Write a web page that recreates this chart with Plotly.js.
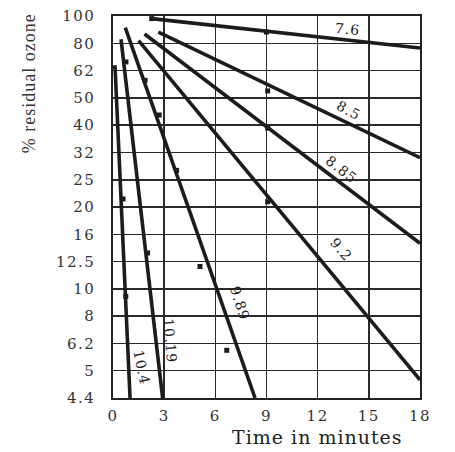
<!DOCTYPE html>
<html>
<head>
<meta charset="utf-8">
<script src="https://cdn.plot.ly/plotly-3.0.1.min.js"></script>
<style>
html,body{margin:0;padding:0;background:#fff;}
#chart{width:455px;height:452px;}
.xtick text,.ytick text{letter-spacing:1.5px;}
.annotation-text{letter-spacing:1px;}
</style>
</head>
<body>
<div id="chart"></div>
<script>
// pH value of each line
const phLabels = ["7.6", "8.5", "8.85", "9.2", "9.89", "10.19", "10.4"];

// line end points (time in minutes, % residual ozone)
const lineTimes = [
  [2.27, 18],
  [2.66, 18],
  [1.85, 18],
  [1.5, 18],
  [0.72, 8.33],
  [0.47, 2.91],
  [0.0, 0.12, 1.0]
];
const lineValues = [
  [97.9, 77.0],
  [87.7, 31.4],
  [86.3, 15.6],
  [81.7, 5.1],
  [91.0, 4.4],
  [82.7, 4.4],
  [65.9, 65.9, 4.4]
];

// measured points
const dotTimes = [
  [2.27, 9.0],
  [9.07],
  [9.07],
  [9.07],
  [1.88, 2.71, 3.73, 5.1, 6.67],
  [0.76, 2.03],
  [0.59, 0.75]
];
const dotValues = [
  [97.9, 87.7],
  [54.2],
  [40.0],
  [21.9],
  [59.1, 44.5, 28.3, 12.9, 6.5],
  [68.7, 14.4],
  [22.4, 10.1]
];

// y axis grid (equal ratio steps) and printed labels
const yTickVals = [100, 80, 64, 51.2, 40.96, 32.77, 26.21, 20.97, 16.78, 13.42, 10.74, 8.59, 6.87, 5.5, 4.4];
const yTickText = ["100", "80", "62", "50", "40", "32", "25", "20", "16", "12.5", "10", "8", "6.2", "5", "4.4"];
const xTickVals = [0, 3, 6, 9, 12, 15, 18];

// label placement (time, value, angle)
const labelTimes = [13.72, 13.78, 13.37, 13.37, 7.45, 3.34, 1.70];
const labelValues = [89.7, 46.3, 28.6, 14.9, 9.6, 7.0, 5.63];
const labelAngles = [6, 28, 38, 50, 72, 85, 78];

const ink = "#1c1c1c";
const traces = [];
phLabels.forEach((p, i) => {
  traces.push({
    x: lineTimes[i], y: lineValues[i], mode: "lines", type: "scatter",
    line: {color: ink, width: 3.6}, hoverinfo: "skip", showlegend: false
  });
  traces.push({
    x: dotTimes[i], y: dotValues[i], mode: "markers", type: "scatter",
    marker: {color: ink, size: 5, symbol: "square"}, hoverinfo: "skip", showlegend: false
  });
});

const serif = "DejaVu Serif, serif";
const annotations = phLabels.map((p, i) => ({
  x: labelTimes[i], y: Math.log10(labelValues[i]), xref: "x", yref: "y",
  text: p, showarrow: false, textangle: labelAngles[i],
  font: {family: serif, size: 14, color: "#222"}
}));
annotations.push({
  xref: "paper", yref: "paper", x: -0.275, y: 0.823, text: "% residual ozone",
  showarrow: false, textangle: -90, xanchor: "center", yanchor: "middle",
  font: {family: "Liberation Serif, serif", size: 18, color: "#333"}
});
annotations.push({
  xref: "paper", yref: "paper", x: 0.666, y: -0.103, text: "Time in minutes",
  showarrow: false, xanchor: "center", yanchor: "middle",
  font: {family: serif, size: 19, color: "#222"}
});

const layout = {
  width: 455, height: 452,
  margin: {l: 113, r: 35, t: 16, b: 54},
  paper_bgcolor: "#fff", plot_bgcolor: "#fff",
  showlegend: false,
  xaxis: {
    range: [0, 18], tickvals: xTickVals, ticktext: xTickVals.map(String),
    showgrid: true, gridcolor: "#2a2a2a", gridwidth: 1.5,
    showline: true, mirror: true, linecolor: "#222", linewidth: 1.6,
    zeroline: false, ticks: "", ticklabelstandoff: 3,
    tickfont: {family: serif, size: 15, color: "#333"}
  },
  yaxis: {
    type: "log", range: [Math.log10(4.4), 2],
    tickvals: yTickVals, ticktext: yTickText,
    showgrid: true, gridcolor: "#2a2a2a", gridwidth: 1.5,
    showline: true, mirror: true, linecolor: "#222", linewidth: 1.6,
    zeroline: false, ticks: "", ticklabelstandoff: 13,
    tickfont: {family: serif, size: 15, color: "#333"}
  },
  annotations: annotations
};

Plotly.newPlot("chart", traces, layout, {displayModeBar: false, staticPlot: true});
</script>
</body>
</html>
